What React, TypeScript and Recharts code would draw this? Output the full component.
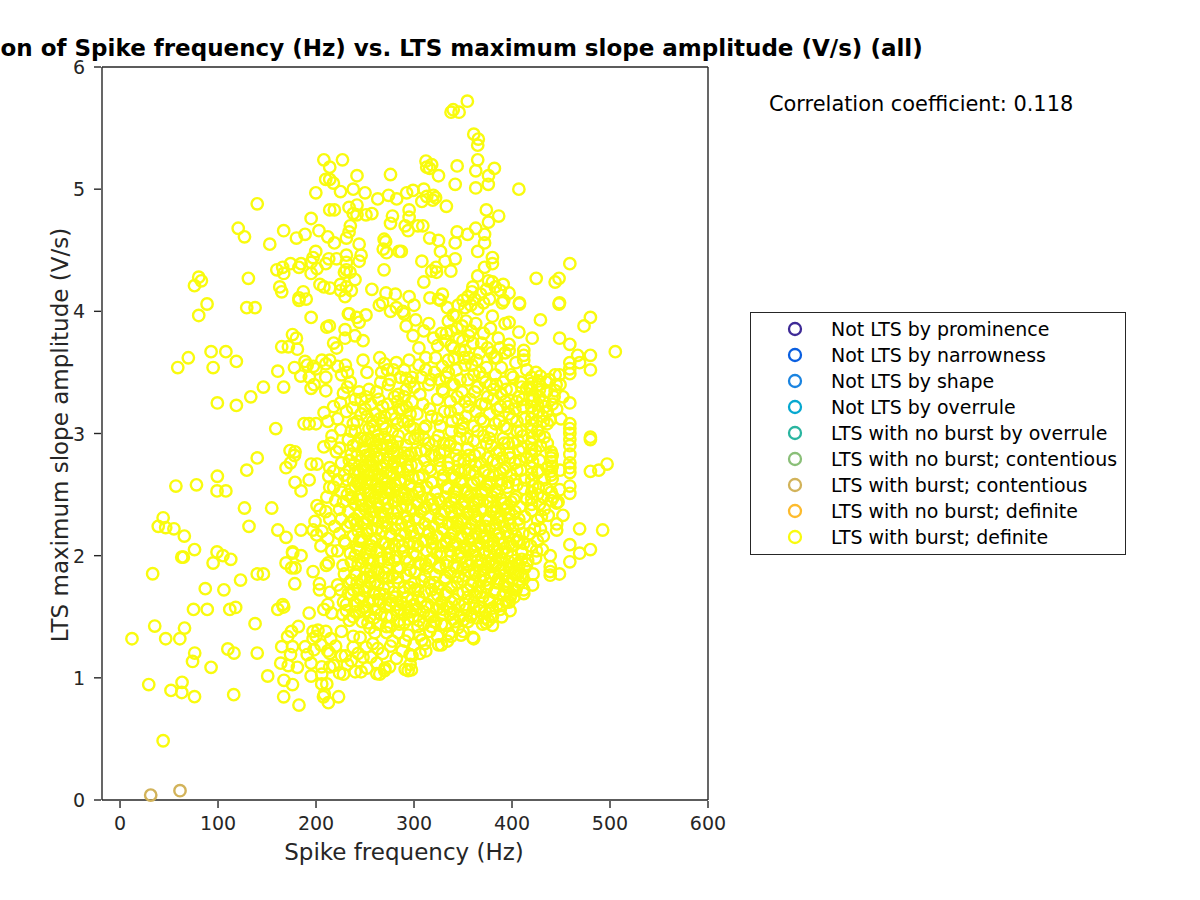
import React from "react";
import { ScatterChart, Scatter, XAxis, YAxis, Legend } from "recharts";

type P = [number, number];

const contentiousBurst: P[] = [[31.3, 0.04], [61.2, 0.076]];

const band5up: P[] = [[354.4,5.72],[337.8,5.63],[340,5.65],[346,5.63],[361,5.45],[365.6,5.41],[365,5.36],[365,5.24],[312.2,5.23],[344,5.19],[363,5.15],[382,5.17],[376,5.11],[375.8,5.04],[363,5.01],[342,5.04],[407,5.0],[325,5.11],[318,5.2],[316,5.17],[313,5.18],[310,5.0],[299,4.99],[208,5.24],[227,5.24],[214,5.18],[209.9,5.08],[214,5.08],[217.7,5.05],[241.8,5.11],[276,5.12],[238,5.0]];

const band4to5: P[] = [[292.5,4.97],[308,4.9],[313,4.94],[319.7,4.95],[322,4.93],[319,4.91],[333,4.86],[295,4.83],[295,4.77],[291,4.7],[294,4.66],[304,4.7],[309,4.7],[373.8,4.83],[386.4,4.78],[376,4.73],[363,4.68],[344,4.65],[354.7,4.63],[372,4.63],[372,4.56],[316,4.6],[325,4.58],[342,4.56],[327,4.49],[365,4.49],[287,4.49],[380,4.44],[380,4.39],[342,4.43],[331.6,4.41],[308,4.41],[322.5,4.36],[318,4.33],[323,4.32],[337.6,4.33],[372,4.36],[365,4.29],[310,4.24],[424.7,4.27],[448,4.27],[444,4.24],[459,4.39],[391,4.22],[380,4.24],[376,4.25],[397,4.15],[359,4.16],[316.3,4.11],[329,4.14],[325,4.1],[350,4.09],[391.6,4.09],[407.6,4.07],[448.5,4.07],[355,4.12],[358,4.05],[362,4.1],[365,4.02],[368,4.14],[371,4.07],[374,4.18],[352,4.03],[377,4.1],[360,4.2],[383,4.2],[388,4.17],
[140,4.88],[120.6,4.68],[127,4.61],[152.8,4.55],[167,4.66],[180,4.6],[188.8,4.63],[203,4.66],[212,4.61],[218.7,4.56],[199.8,4.97],[225,4.98],[250,4.97],[263,4.92],[274,4.95],[282.3,4.92],[214,4.83],[218.7,4.83],[233.7,4.85],[241.8,4.87],[238,4.8],[241.8,4.79],[251,4.79],[257,4.8],[195,4.76],[278,4.78],[276,4.72],[235,4.7],[233.7,4.65],[231,4.6],[244,4.55],[269.5,4.59],[271,4.57],[268.6,4.51],[272,4.48],[284.7,4.49],[199.7,4.49],[197,4.44],[195,4.4],[231,4.46],[231,4.4],[246,4.46],[244,4.41],[221,4.43],[213,4.43],[210,4.39],[201,4.35],[195,4.31],[184.7,4.39],[182.6,4.36],[174,4.39],[166,4.36],[160,4.34],[167,4.31],[269.4,4.34],[231,4.34],[229,4.32],[234.7,4.32],[239.8,4.26],[225,4.22],[204,4.22],[208,4.2],[214.3,4.19],[231,4.2],[225,4.17],[236,4.17],[229.6,4.12],[257,4.18],[271.4,4.15],[281,4.14],[163,4.2],[165,4.16],[187,4.16],[182.6,4.11],[267.9,4.07],[264.6,4.05],[276,4.0],[288.5,4.0],[234,3.98],[80.3,4.28],[83,4.25],[76,4.21],[88.8,4.06],[129.3,4.03],[137.8,4.03],[131,4.27],[182.6,4.09],[190,4.1],[295,4.12],[282,4.03],[300,4.05],[327,4.09],[334,4.03],[345,4.05]];

const bandLeft: P[] = [[80.3,3.966],[195,3.95],[213.6,3.88],[211,3.87],[229.6,3.85],[218,3.74],[229.6,3.78],[239.8,3.8],[248,3.76],[233,3.98],[241.5,3.95],[251,3.97],[244,3.91],[176,3.81],[180,3.78],[165,3.71],[171.8,3.71],[181,3.69],[92.9,3.67],[108,3.67],[69.7,3.62],[58.9,3.54],[95,3.54],[118.7,3.59],[161,3.51],[178,3.54],[188.8,3.59],[197.3,3.55],[184.4,3.47],[193.2,3.46],[195,3.37],[167,3.38],[146.3,3.38],[133.4,3.3],[99.3,3.25],[118.7,3.23],[208.2,3.17],[231,3.18],[237.4,3.21],[158.9,3.04],[187.8,3.08],[193,3.08],[200,3.08],[225.2,3.03],[216.3,2.98],[208,2.89],[233,2.95],[220.7,2.85],[173.5,2.86],[178.6,2.85],[178,2.82],[174,2.76],[169.4,2.72],[195,2.75],[201,2.75],[214,2.72],[218,2.69],[140,2.8],[129.3,2.7],[99.3,2.65],[57,2.57],[78,2.58],[99,2.53],[108,2.53],[127,2.39],[154.8,2.39],[193,2.62],[178.6,2.6],[184.7,2.53],[214,2.56],[218,2.56],[211,2.48],[201,2.41],[204,2.38],[210,2.36],[199,2.28],[197,2.21],[200.7,2.17],[184.7,2.21],[161,2.21],[131.6,2.24],[169.4,2.15],[44,2.31],[39,2.24],[46.6,2.23],[55,2.22],[65.6,2.16],[76,2.05],[99,2.03],[176,2.03],[184.7,2.0],[206,3.6],[210,3.57],[214,3.6],[210,3.46],[210,3.35],[198,3.4],[200,3.53],[191,3.56],[221,3.7],[222,3.55],[226,3.48],[230,3.56],[232,3.5],[235,3.42],[228,3.33],[232,3.38],[225,3.25],[218,3.22],[212,3.1],[222,3.12],[215,2.92],[224,2.88],[226,2.76],[213,2.65],[222,2.62],[229,2.66],[226,2.52],[220,2.45],[224,2.38],[214,2.3],[219,2.24],[206,2.2],[212,2.14],[205,2.08],[216,2.04],[33.3,1.852],[64.6,1.988],[63,1.988],[95,1.94],[105,2.0],[113,1.97],[123,1.8],[87,1.73],[106,1.72],[140,1.85],[146.3,1.85],[169.4,1.94],[175,1.9],[178.6,1.9],[197,1.87],[176.2,2.02],[178.3,1.77],[161,1.56],[167,1.58],[166,1.6],[193,1.53],[203.5,1.77],[203.5,1.72],[214,1.7],[212.6,1.94],[210.5,1.92],[227.6,1.92],[75,1.56],[89,1.56],[112,1.56],[118,1.576],[137.8,1.443],[12.2,1.32],[35.4,1.424],[46.6,1.32],[61,1.32],[65.8,1.407],[76.2,1.203],[74,1.134],[92.9,1.086],[110,1.236],[116.3,1.203],[140,1.203],[165,1.255],[171,1.337],[175,1.38],[182,1.42],[176,1.255],[174,1.19],[164,1.12],[171.7,1.1],[181,1.086],[191,1.19],[197,1.38],[197,1.32],[189,1.255],[205.8,1.09],[214,1.09],[214,1.2],[205.8,1.03],[228,1.03],[246,1.05],[262,1.035],[270.4,1.08],[294,1.06],[29.3,0.945],[52,0.897],[63.3,0.963],[63,0.88],[76,0.846],[116,0.862],[44,0.485],[150.7,1.015],[167.3,0.98],[176,0.945],[167,0.845],[182.6,0.777],[195,1.015],[205.8,0.95],[211,0.95],[208.5,0.866],[207.6,0.845],[212.6,0.797],[223,0.845]];

const bandRight: P[] = [[505.4,3.67],[480,3.95],[473.5,3.88],[429,3.93],[448.6,3.78],[459,3.73],[467,3.64],[480,3.64],[469,3.58],[459,3.58],[459,3.53],[459,3.49],[480,3.52],[420.6,3.78],[407,3.83],[397,3.91],[392.9,3.9],[390,4.07],[407.6,4.06],[448,4.06],[380,3.96],[301.7,3.93],[292,3.88],[289.8,3.98],[310,3.84],[295,3.6],[312,3.52],[412,3.68],[412,3.64],[412,3.6],[397,3.73],[397,3.68],[387.8,3.7],[384.4,3.62],[424.5,3.5],[429,3.47],[444,3.48],[448.4,3.48],[459,3.25],[452,3.3],[449,3.4],[444,3.35],[445.6,3.2],[439,3.11],[436,3.18],[428,3.4],[418,3.38],[415,3.37],[459,3.08],[459,3.04],[459,3.0],[459,2.95],[459,2.9],[459,2.83],[459,2.76],[459,2.72],[459,2.68],[459,2.57],[459,2.51],[480,2.97],[480,2.95],[480,2.69],[488.6,2.7],[497,2.75],[440,2.85],[441,2.82],[440,2.8],[440,2.77],[441,2.73],[440,2.69],[440,2.66],[441,2.63],[449,2.7],[448.6,2.54],[440,2.52],[442,2.48],[440,2.45],[445.6,2.43],[452,2.33],[445.6,2.26],[445.6,2.21],[469,2.22],[492.5,2.21],[429,2.22],[426,2.29],[459,2.09],[480,2.05],[469,2.02],[439,2.0],[459,1.95],[439,1.91],[439,1.87],[439,1.84],[448.4,1.85],[421.5,1.85],[421,1.76],[412,1.69],[412,1.72],[398,1.55],[389.5,1.5],[380,1.43],[373.5,1.45],[360.9,1.32],[325,1.27],[338,1.34],[306,1.2],[296,1.19],[311,1.28],[297.3,1.065],
[420,3.46],[420,3.41],[420,3.36],[421,3.31],[420,3.27],[420,3.22],[421,3.17],[420,3.12],[420,3.07],[420,3.02],[421,2.97],[420,2.92],[420,2.87],[420,2.82],[421,2.77],[420,2.72],[420,2.67],[420,2.62],[421,2.57],[420,2.52],[420,2.47],[420,2.42],[420,2.37],[422,3.28],[428,3.3],[432,3.26],[435,3.34],[431,3.14],[436,3.08],[427,3.18],[441,3.24],[426,3.02],[433,2.97],[428,2.42],[433,2.38],[437,2.33],[426,2.12],[431,2.05],[424,1.98],[418,2.18],[415,1.93],[411,1.83],[408,1.78],[402,1.66],[397,1.62],[404,1.72]];

const bandA: P[] = [[215,1.32],[220,1.26],[226,1.38],[230,1.18],[232,1.11],[238,1.25],[240,1.05],[245,1.33],[248,1.17],[252,1.08],[255,1.41],[258,1.28],[262,1.12],[265,1.03],[268,1.2],[272,1.37],[275,1.09],[278,1.3],[282,1.16],[285,1.44],[288,1.22],[291,1.07],[294,1.35],[298,1.18],[300,1.27],[304,1.42],[308,1.31],[312,1.22],[316,1.38],[320,1.46],[324,1.34],[328,1.27],[332,1.43],[336,1.36],[340,1.48],[345,1.41],[350,1.38],[355,1.46],[360,1.33],[364,1.49],[370,1.44],[376,1.47],[200,1.34],[205,1.27],[210,1.38],[212,1.22],[195,1.12],[198,1.23],[202,1.39],[218,1.1],[224,1.04],[236,1.14],[243,1.2],[256,1.17],[270,1.06],[284,1.37],[296,1.11],[310,1.44],[334,1.3],[348,1.35]];

const bandB: P[] = [[208,1.56],[212,1.6],[216,1.53],[222,1.76],[225,1.72],[228,1.62],[231,1.55],[234,1.78],[236,1.68],[238,1.5],[240,1.85],[241,1.6],[243,1.72],[244,1.54],[246,1.95],[247,1.8],[248,1.66],[250,1.58],[251,1.9],[252,1.74],[254,1.62],[255,1.5],[256,1.83],[258,1.96],[259,1.7],[260,1.56],[262,1.88],[263,1.76],[264,1.64],[266,1.52],[267,1.98],[268,1.82],[270,1.68],[271,1.58],[273,1.9],[274,1.74],[275,1.6],[277,1.5],[278,1.84],[280,1.96],[281,1.66],[283,1.55],[284,1.78],[286,1.9],[287,1.62],[289,1.7],[290,1.52],[292,1.84],[293,1.58],[295,1.95],[296,1.74],[298,1.64],[299,1.5],[301,1.86],[302,1.56],[304,1.72],[305,1.94],[307,1.62],[308,1.8],[310,1.54],[311,1.7],[313,1.9],[314,1.6],[316,1.78],[317,1.5],[319,1.97],[320,1.66],[322,1.84],[323,1.56],[325,1.74],[326,1.92],[328,1.62],[329,1.52],[331,1.8],[332,1.68],[334,1.95],[335,1.58],[337,1.86],[338,1.74],[340,1.54],[341,1.64],[343,1.9],[344,1.78],[346,1.6],[347,1.5],[349,1.98],[350,1.7],[352,1.84],[353,1.56],[355,1.66],[356,1.92],[358,1.76],[359,1.52],[361,1.62],[362,1.86],[364,1.7],[365,1.96],[367,1.58],[368,1.8],[370,1.66],[371,1.88],[373,1.54],[374,1.74],[376,1.94],[377,1.62],[379,1.82],[380,1.5],[382,1.7],[383,1.92],[385,1.6],[386,1.78],[388,1.56],[389,1.98],[391,1.68],[392,1.84],[394,1.62],[395,1.74],[397,1.9],[398,1.66],[400,1.8],[401,1.72],[403,1.96],[404,1.86],[406,1.76],[407,1.92],[409,1.84],[410,1.97],[413,1.9],[416,1.96]];

const bandC: P[] = [[222,2.04],[224,2.18],[226,2.3],[228,2.44],[230,2.1],[232,2.24],[233,2.36],[235,2.02],[236,2.48],[238,2.16],[239,2.3],[240,2.42],[242,2.06],[243,2.2],[244,2.34],[246,2.46],[247,2.12],[248,2.26],[250,2.38],[251,2.02],[252,2.18],[253,2.3],[255,2.44],[256,2.08],[257,2.22],[259,2.36],[260,2.48],[261,2.14],[263,2.28],[264,2.4],[265,2.04],[267,2.2],[268,2.32],[269,2.46],[271,2.1],[272,2.24],[273,2.38],[275,2.02],[276,2.16],[277,2.3],[279,2.44],[280,2.08],[281,2.22],[283,2.36],[284,2.48],[285,2.12],[287,2.26],[288,2.4],[289,2.04],[291,2.18],[292,2.32],[293,2.46],[295,2.1],[296,2.24],[297,2.38],[299,2.02],[300,2.16],[301,2.3],[303,2.44],[304,2.08],[305,2.22],[307,2.36],[308,2.48],[309,2.12],[311,2.26],[312,2.4],[313,2.04],[315,2.18],[316,2.32],[317,2.46],[319,2.1],[320,2.24],[321,2.38],[323,2.02],[324,2.16],[325,2.3],[327,2.44],[328,2.08],[329,2.22],[331,2.36],[332,2.48],[333,2.12],[335,2.26],[336,2.4],[337,2.04],[339,2.18],[340,2.32],[341,2.46],[343,2.1],[344,2.24],[345,2.38],[347,2.02],[348,2.16],[349,2.3],[351,2.44],[352,2.08],[353,2.22],[355,2.36],[356,2.48],[357,2.12],[359,2.26],[360,2.4],[361,2.04],[363,2.18],[364,2.32],[365,2.46],[367,2.1],[368,2.24],[369,2.38],[371,2.02],[372,2.16],[373,2.3],[375,2.44],[376,2.08],[377,2.22],[379,2.36],[380,2.48],[381,2.12],[383,2.26],[384,2.4],[385,2.04],[387,2.18],[388,2.32],[389,2.46],[391,2.1],[392,2.24],[393,2.38],[395,2.02],[396,2.16],[397,2.3],[399,2.44],[400,2.08],[401,2.22],[403,2.36],[404,2.48],[405,2.12],[407,2.26],[408,2.4],[410,2.04],[411,2.18],[413,2.32],[415,2.46]];

const bandD: P[] = [[232,2.62],[234,2.78],[236,2.54],[238,2.9],[240,2.68],[242,2.82],[244,2.58],[246,2.96],[248,2.72],[250,2.86],[252,2.6],[254,2.76],[256,2.52],[258,2.92],[260,2.66],[262,2.8],[263,2.98],[265,2.56],[267,2.72],[268,2.88],[270,2.62],[272,2.76],[274,2.54],[275,2.94],[277,2.68],[279,2.84],[281,2.58],[283,2.72],[284,2.98],[286,2.62],[288,2.8],[290,2.52],[292,2.9],[294,2.7],[296,2.58],[297,2.84],[299,2.64],[301,2.96],[303,2.74],[305,2.54],[307,2.86],[309,2.66],[311,2.78],[313,2.56],[315,2.92],[317,2.7],[319,2.6],[321,2.82],[323,2.52],[325,2.98],[327,2.72],[329,2.62],[331,2.86],[333,2.56],[335,2.76],[337,2.92],[339,2.66],[341,2.52],[343,2.82],[345,2.7],[347,2.96],[349,2.6],[351,2.78],[353,2.54],[355,2.88],[357,2.68],[359,2.58],[361,2.94],[363,2.74],[365,2.62],[367,2.84],[369,2.52],[371,2.98],[373,2.7],[375,2.8],[377,2.6],[379,2.9],[381,2.66],[383,2.54],[385,2.76],[387,2.86],[389,2.62],[391,2.96],[393,2.72],[395,2.56],[397,2.84],[399,2.66],[401,2.92],[403,2.76],[405,2.58],[407,2.86],[409,2.7],[411,2.98],[413,2.62],[415,2.8],[246,2.6],[262,2.54],[278,2.9],[294,2.82],[310,2.96],[326,2.84],[342,2.64],[358,2.78],[374,2.58],[390,2.8],[406,2.94]];

const bandE: P[] = [[240,3.02],[246,3.28],[252,3.14],[256,3.24],[258,3.06],[262,3.34],[265,3.12],[268,3.22],[271,3.04],[274,3.4],[277,3.16],[280,3.3],[283,3.08],[286,3.46],[288,3.2],[290,3.52],[292,3.36],[294,3.1],[296,3.42],[298,3.26],[300,3.04],[303,3.16],[306,3.32],[309,3.24],[312,3.06],[315,3.4],[318,3.14],[321,3.5],[324,3.28],[327,3.06],[329,3.36],[331,3.18],[333,3.46],[335,3.6],[337,3.26],[339,3.1],[341,3.4],[343,3.52],[345,3.2],[347,3.02],[349,3.34],[351,3.62],[353,3.14],[355,3.44],[357,3.28],[359,3.56],[361,3.06],[363,3.18],[365,3.38],[367,3.5],[369,3.24],[371,3.1],[373,3.42],[375,3.3],[377,3.16],[379,3.02],[381,3.36],[383,3.48],[385,3.2],[387,3.1],[389,3.32],[391,3.42],[393,3.26],[395,3.04],[397,3.16],[399,3.36],[401,3.46],[403,3.2],[405,3.1],[407,3.3],[409,3.02],[411,3.22],[413,3.12],[265,3.62],[270,3.57],[273,3.52],[282,3.58],[284,3.32],[252,3.5],[248,3.6],[320,3.78],[324,3.72],[328,3.82],[332,3.76],[335,3.92],[338,3.84],[340,3.7],[343,3.96],[346,3.78],[349,3.88],[352,3.68],[356,3.8],[360,3.74],[363,3.9],[367,3.66],[371,3.82],[375,3.7],[378,3.86],[382,3.62],[386,3.78],[299,3.8],[305,3.7],[315,3.9],[312,3.62]];

const clusterUpperLeft: P[] = [[262,2.71],[255,2.83],[268,2.64],[249,2.55],[274,2.79],[243,2.69],[259,2.47],[281,2.58],[236,2.83],[266,2.91],[252,2.66],[271,2.52],[246,2.78],[285,2.69],[257,2.61],[240,2.57],[277,2.88],[263,2.42],[250,2.94],[288,2.47],[269,2.74],[256,2.95],[244,2.46],[279,2.66],[261,2.58],[234,2.71],[290,2.84],[273,2.43],[248,2.88],[265,2.8],[253,2.5],[283,2.93],[238,2.62],[270,2.97],[258,2.74],[276,2.51],[242,2.92],[286,2.6],[264,2.66],[251,2.74],[260,2.85],[247,2.63],[272,2.68],[267,2.56],[255,2.4],[280,2.77],[245,2.36],[293,2.73],[254,3.04],[268,3.08],[278,3.02],[242,3.1],[289,3.1],[261,3.16],[250,3.2],[273,3.24],[236,3.02],[296,3.06],[285,3.2],[264,3.28],[254,3.36],[276,3.44],[244,3.34],[290,3.3],[298,3.46],[267,3.5],[281,3.12],[260,3.02]];

const clusterLowerRight: P[] = [[388,1.88],[379,1.97],[395,1.79],[371,1.84],[383,1.72],[397,1.95],[365,1.92],[376,1.77],[390,2.03],[360,1.79],[402,1.85],[372,2.03],[384,1.94],[356,1.87],[393,1.7],[368,1.7],[381,2.08],[405,1.93],[363,2.0],[377,1.64],[353,1.95],[398,2.1],[386,1.81],[369,1.96],[391,1.9],[374,1.9],[382,1.85],[358,2.06],[410,2.02],[366,1.75],[400,2.0],[350,1.8],[387,2.14],[375,2.12],[361,2.14],[394,2.2],[347,2.03],[383,2.22],[369,2.2],[357,2.22],[404,2.16],[390,2.28],[376,2.29],[349,2.14],[363,2.29],[397,2.34],[384,2.36],[370,2.37],[355,2.34],[344,2.27],[407,2.3],[392,2.43],[378,2.44],[361,2.43],[349,2.42],[338,2.36],[402,2.46],[385,2.52],[369,2.5],[354,2.52],[342,2.48],[396,2.6],[378,2.58],[361,2.6],[412,2.55],[347,2.6],[388,2.68],[371,2.69],[352,2.7],[405,2.7],[335,2.55],[381,2.78],[362,2.82],[345,2.78],[398,2.8],[392,2.92],[374,2.92],[354,2.96],[336,2.9],[411,2.88]];

const clusterLowerLeft: P[] = [[245,1.65],[252,1.55],[238,1.72],[260,1.78],[247,1.46],[266,1.62],[231,1.6],[256,1.88],[272,1.5],[241,1.84],[279,1.7],[234,1.47],[263,1.44],[250,1.71],[286,1.56],[227,1.52],[270,1.86],[243,1.93],[258,1.63],[293,1.66],[236,1.8],[276,1.42],[253,1.97],[283,1.82],[265,1.95],[229,1.85],[249,1.82],[290,1.45],[274,1.97],[240,2.0],[300,1.6],[256,2.05],[268,2.1],[282,1.99],[296,1.88],[305,1.47],[244,2.12],[262,2.22],[276,2.18],[288,2.08],[312,1.58],[250,2.27],[270,2.32],[283,2.3],[298,2.2],[318,1.72],[258,2.36],[292,2.4],[305,2.3],[322,1.46],[302,2.0],[311,1.83],[319,2.06],[326,1.9],[333,1.7],[315,2.2],[328,2.28],[338,2.0],[307,1.93],[323,2.16],[332,1.82],[341,1.92],[316,1.96],[324,1.68],[337,2.14],[345,1.69],[330,1.56],[352,1.6],[342,1.46],[358,1.5],[367,1.55],[310,2.38],[325,2.46],[336,2.26],[305,2.52],[318,2.6],[330,2.66],[298,2.5],[314,2.72],[326,2.78],[302,2.84],[310,3.04],[322,2.94],[296,2.96]];

const clusterUpperRight: P[] = [[335,3.5],[341,3.62],[347,3.44],[352,3.56],[338,3.72],[344,3.86],[350,3.76],[356,3.62],[361,3.48],[333,3.82],[340,3.97],[347,3.68],[353,3.92],[358,3.84],[364,3.6],[369,3.74],[374,3.54],[379,3.66],[384,3.4],[389,3.54],[393,3.66],[399,3.48],[404,3.58],[409,3.42],[415,3.52],[330,3.34],[337,3.18],[344,3.3],[350,3.04],[356,3.22],[362,3.34],[368,3.12],[373,3.24],[378,3.4],[383,3.08],[388,3.22],[394,3.36],[400,3.12],[405,3.26],[410,3.38],[322,3.62],[326,3.44],[316,3.2],[308,3.46],[300,3.38],[292,3.22],[428,3.36],[434,3.22],[426,3.24],[438,3.44],[432,3.1],[443,3.3],[429,2.9],[436,2.92],[428,2.78],[433,2.62],[427,2.56],[432,2.48],[436,2.72],[447,2.44],[426,2.68],[450,3.12],[427,3.43],[435,3.42],[445,3.4]];

const clusterCore: P[] = [[258,2.78],[245,2.5],[272,2.6],[264,2.95],[251,2.82],[283,2.84],[239,2.75],[269,2.47],[256,2.68],[278,2.73],[247,2.41],[261,2.89],[291,2.62],[253,2.96],[275,2.56],[242,2.6],[287,2.78],[266,2.35],[249,2.7],[281,2.45],[259,2.31],[273,2.9],[237,2.47],[295,2.57],[263,2.52],[252,2.21],[246,2.15],[268,2.27],[257,2.12],[279,2.35],[241,2.26],[286,2.17],[262,2.03],[274,2.07],[294,2.28],[248,1.98],[283,1.9],[255,1.78],[269,1.73],[242,1.78],[277,1.63],[259,1.49],[290,1.74],[233,1.69],[248,1.58],[265,1.69],[253,1.45],[285,1.47],[296,1.54],[240,1.54],[272,1.42],[305,1.66],[260,1.37],[315,1.51],[328,1.44],[300,1.78],[312,1.93],[321,1.78],[333,1.92],[345,1.83],[338,1.62],[355,1.72],[327,2.02],[318,2.14],[340,2.08],[350,1.9],[362,1.68],[373,1.8],[384,1.78],[392,1.76],[380,1.92],[368,1.88],[358,1.96],[345,2.0],[333,2.1],[352,2.06],[364,2.08],[377,2.03],[389,1.97],[400,1.9],[393,2.06],[384,2.17],[370,2.14],[355,2.18],[341,2.2],[328,2.34],[349,2.28],[361,2.36],[373,2.24],[385,2.3],[398,2.26],[407,2.12],[395,2.4],[380,2.4],[366,2.44],[352,2.4],[338,2.44],[322,2.52],[344,2.54],[358,2.5],[373,2.54],[389,2.58],[403,2.62],[391,2.7],[376,2.66],[362,2.68],[348,2.68],[335,2.72],[318,2.82],[330,2.92],[343,2.88],[356,2.82],[368,2.76],[384,2.84],[396,2.92],[408,2.78],[377,2.96],[350,3.08],[365,3.02],[338,3.02],[392,3.06],[405,3.02],[324,3.12],[312,2.86],[304,2.98],[297,2.74],[305,2.64],[319,2.42],[304,2.42],[291,2.5],[312,2.12],[300,2.1],[292,1.98],[301,1.72],[294,1.48],[282,1.6],[274,1.82],[264,1.86],[255,1.94],[244,2.05],[236,1.95],[229,2.12],[235,2.27],[232,2.5],[238,3.08],[246,3.16],[258,3.1],[270,3.14],[283,3.26],[296,3.16],[240,3.28],[251,3.3],[266,3.42],[279,3.52],[292,3.45],[305,3.56],[317,3.44],[329,3.55],[339,3.4],[352,3.26],[345,3.12],[370,3.46],[381,3.28],[396,3.22],[411,3.28],[425,3.1],[428,2.98],[424,2.86],[427,2.7],[435,2.55],[426,2.5],[430,2.32],[423,2.22],[419,2.08],[412,2.1],[425,2.04],[432,2.16],[406,1.85],[399,1.68],[390,1.6],[380,1.57],[372,1.49],[361,1.57],[350,1.47],[337,1.52],[326,1.58],[318,1.42],[306,1.35],[291,1.3],[276,1.26],[263,1.24],[251,1.25],[238,1.34],[226,1.18]];

const spikes: P[] = [...band5up, ...band4to5, ...bandLeft, ...bandRight, ...bandA, ...bandB, ...bandC, ...bandD, ...bandE, ...clusterUpperLeft, ...clusterLowerRight, ...clusterLowerLeft, ...clusterUpperRight, ...clusterCore];
const toRows = (list: P[]) => list.map(([x, y]) => ({ x, y }));

const xTicks = [0, 100, 200, 300, 400, 500, 600];
const yTicks = [0, 1, 2, 3, 4, 5, 6];
const legendNames = ["Not LTS by prominence","Not LTS by narrowness","Not LTS by shape","Not LTS by overrule","LTS with no burst by overrule","LTS with no burst; contentious","LTS with burst; contentious","LTS with no burst; definite","LTS with burst; definite"];
const legendColors = ["#3e2a96","#0a5fe0","#1a84e0","#06a8d0","#2ab5a0","#8abf78","#d2b35a","#fdbb2d","#f9fb0e"];

const FONT = "'DejaVu Sans'";
const INK = "#262626";
const TICK = 7;
const AXIS_LINE = { stroke: INK, strokeWidth: 1.4 };

const Ring = (color: string) => (p: any) => <circle cx={p.cx} cy={p.cy} r={5.7} fill="none" stroke={color} strokeWidth={2.4} />;

const BottomTick = (p: any) => (
  <g>
    <line x1={p.x} x2={p.x} y1={p.y} y2={p.y - TICK} stroke={INK} strokeWidth={1.4} />
    <text x={p.x} y={p.y + 22} textAnchor="middle" fontFamily={FONT} fontSize={19} fill={INK}>{p.payload.value}</text>
  </g>
);
const TopTick = (p: any) => <line x1={p.x} x2={p.x} y1={p.y} y2={p.y + TICK} stroke={INK} strokeWidth={1.4} />;
const LeftTick = (p: any) => (
  <g>
    <line x1={p.x} x2={p.x + TICK} y1={p.y} y2={p.y} stroke={INK} strokeWidth={1.4} />
    <text x={p.x - 9} y={p.y + 7} textAnchor="end" fontFamily={FONT} fontSize={19} fill={INK}>{p.payload.value}</text>
  </g>
);
const RightTick = (p: any) => <line x1={p.x} x2={p.x - TICK} y1={p.y} y2={p.y} stroke={INK} strokeWidth={1.4} />;

const LegendBox = () => (
  <div style={{ position: "absolute", left: 750, top: 312, width: 374, height: 241, border: "1px solid #262626", background: "#fff", fontFamily: FONT, fontSize: 18.95, color: "#000" }}>
    {legendNames.map((n, i) => (
      <div key={n} style={{ position: "absolute", left: 0, top: 4 + i * 26, height: 26, lineHeight: "24px", whiteSpace: "nowrap" }}>
        <svg width={20} height={20} style={{ position: "absolute", left: 34, top: 2 }}>
          <circle cx={10} cy={10} r={6} fill="none" stroke={legendColors[i]} strokeWidth={2.3} />
        </svg>
        <span style={{ position: "absolute", left: 80 }}>{n}</span>
      </div>
    ))}
  </div>
);

export default function App() {
  return (
    <div style={{ position: "absolute", left: 0, top: 0, width: 1200, height: 900, overflow: "hidden", background: "#fff" }}>
      <ScatterChart width={1200} height={900} margin={{ left: 101, right: 491, top: 66, bottom: 99 }}>
        <XAxis xAxisId="b" type="number" dataKey="x" orientation="bottom" height={1} domain={[-18.4, 600]} ticks={xTicks} tick={BottomTick} tickLine={false} axisLine={AXIS_LINE} interval={0} />
        <XAxis xAxisId="t" type="number" dataKey="x" orientation="top" height={1} domain={[-18.4, 600]} ticks={xTicks} tick={TopTick} tickLine={false} axisLine={AXIS_LINE} interval={0} />
        <YAxis yAxisId="l" type="number" dataKey="y" orientation="left" width={1} domain={[0, 6]} ticks={yTicks} tick={LeftTick} tickLine={false} axisLine={AXIS_LINE} interval={0} />
        <YAxis yAxisId="r" type="number" dataKey="y" orientation="right" width={1} domain={[0, 6]} ticks={yTicks} tick={RightTick} tickLine={false} axisLine={AXIS_LINE} interval={0} />
        {legendNames.slice(0, 6).map((n, i) => (
          <Scatter key={n} name={n} xAxisId="b" yAxisId="l" data={[]} shape={Ring(legendColors[i])} isAnimationActive={false} />
        ))}
        <Scatter name={legendNames[6]} xAxisId="b" yAxisId="l" data={toRows(contentiousBurst)} shape={Ring(legendColors[6])} isAnimationActive={false} />
        <Scatter name={legendNames[7]} xAxisId="b" yAxisId="l" data={[]} shape={Ring(legendColors[7])} isAnimationActive={false} />
        <Scatter name={legendNames[8]} xAxisId="b" yAxisId="l" data={toRows(spikes)} shape={Ring(legendColors[8])} isAnimationActive={false} />
        <Legend content={() => null} />
      </ScatterChart>
      <div style={{ position: "absolute", left: 405, top: 35, transform: "translateX(-50%)", whiteSpace: "nowrap", fontFamily: FONT, fontWeight: 700, fontSize: 23, color: "#000" }}>Correlation of Spike frequency (Hz) vs. LTS maximum slope amplitude (V/s) (all)</div>
      <div style={{ position: "absolute", left: 404, top: 839, transform: "translateX(-50%)", whiteSpace: "nowrap", fontFamily: FONT, fontSize: 23, color: INK }}>Spike frequency (Hz)</div>
      <div style={{ position: "absolute", left: 60, top: 435, transform: "translate(-50%,-50%) rotate(-90deg)", whiteSpace: "nowrap", fontFamily: FONT, fontSize: 23, color: INK }}>LTS maximum slope amplitude (V/s)</div>
      <div style={{ position: "absolute", left: 769, top: 92, whiteSpace: "nowrap", fontFamily: FONT, fontSize: 20.9, color: "#000" }}>Correlation coefficient: 0.118</div>
      <LegendBox />
    </div>
  );
}
